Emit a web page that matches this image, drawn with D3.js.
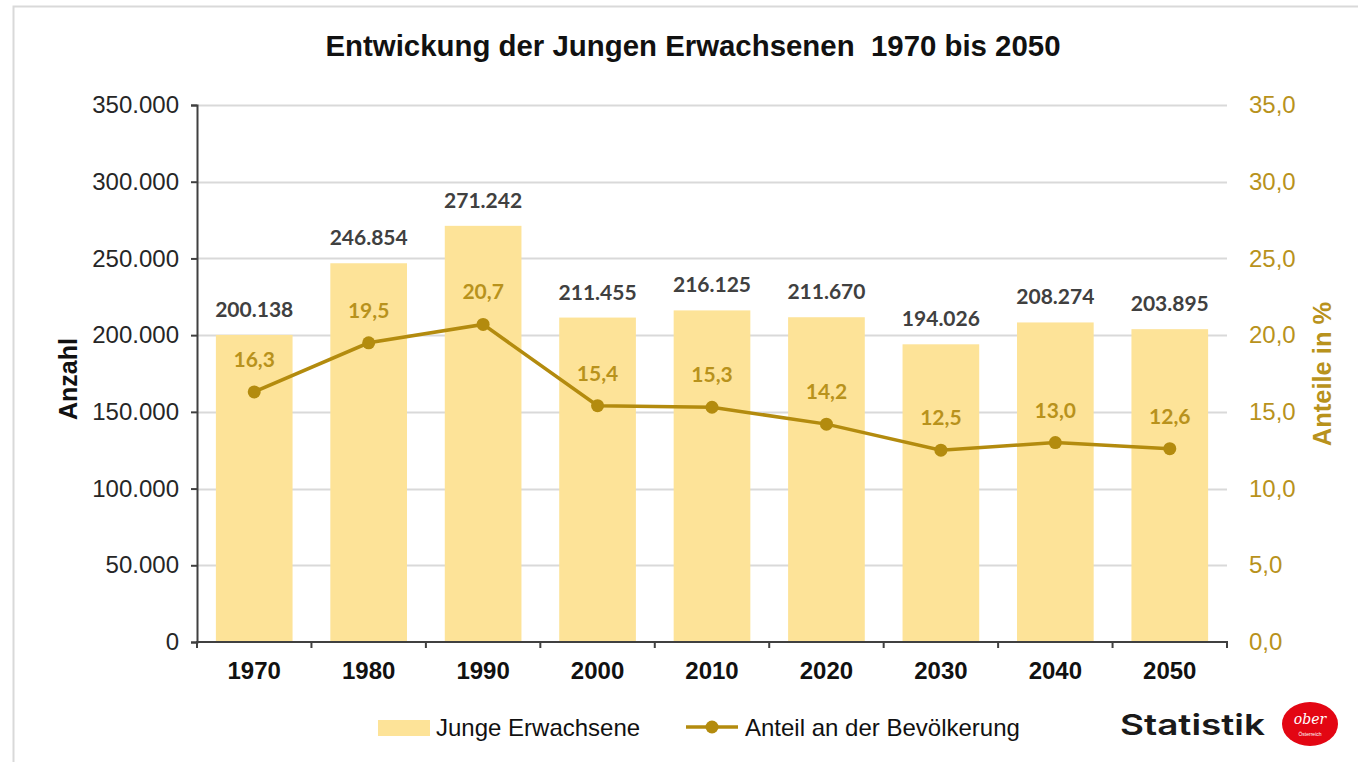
<!DOCTYPE html>
<html>
  <head>
    <meta charset="utf-8">
    <title>Junge Erwachsene</title>
    <script src="https://d3js.org/d3.v7.min.js"></script>
    <style>
      body { margin: 0; background: #fff; }
      text { font-family: "Liberation Sans", Arial, sans-serif; }
    </style>
  </head>
  <body>
    <div id="graph"></div>
  </body>

  <script>
    // Data
    const years = ["1970", "1980", "1990", "2000", "2010", "2020", "2030", "2040", "2050"];
    const counts = [200138, 246854, 271242, 211455, 216125, 211670, 194026, 208274, 203895];
    const shares = [16.3, 19.5, 20.7, 15.4, 15.3, 14.2, 12.5, 13.0, 12.6];
    const left_ticks = [0, 50000, 100000, 150000, 200000, 250000, 300000, 350000];
    const right_ticks = [0, 5, 10, 15, 20, 25, 30, 35];

    const width = 1358;
    const height = 762;
    const margin = ({top: 105, right: 131, bottom: 120, left: 197});
    const bar_color = "#FDE398";
    const line_color = "#B38B0E";
    const gold_text = "#B8921C";

    const de_int = d3.formatLocale({decimal: ",", thousands: ".", grouping: [3], currency: ["", "€"]});
    const fmt_count = de_int.format(",d");
    const fmt_share = de_int.format(".1f");

    let svg = d3.select("#graph").append("svg")
      .attr("width", width)
      .attr("height", height);

    // Outer frame
    svg.append("rect")
      .attr("x", 13.5).attr("y", 6.5)
      .attr("width", width).attr("height", height)
      .attr("fill", "none")
      .attr("stroke", "#d9d9d9")
      .attr("stroke-width", 2);

    // Title
    svg.append("text")
      .attr("x", 693).attr("y", 56)
      .attr("text-anchor", "middle")
      .style("font-weight", "bold")
      .style("font-size", "29.4px")
      .style("fill", "#111")
      .style("white-space", "pre")
      .text("Entwickung der Jungen Erwachsenen  1970 bis 2050");

    // Scales
    let x = d3.scaleBand()
      .domain(years)
      .range([margin.left, width - margin.right])
      .paddingInner(0.33)
      .paddingOuter(0.165);
    let x_ticks = d3.scaleBand().domain(years).range([margin.left, width - margin.right]);
    let y = d3.scaleLinear()
      .domain([0, 350000])
      .range([height - margin.bottom, margin.top]);
    let y2 = d3.scaleLinear()
      .domain([0, 35])
      .range([height - margin.bottom, margin.top]);

    // Gridlines
    svg.append("g")
      .selectAll("line")
      .data(left_ticks.filter(d => d > 0))
      .join("line")
      .attr("x1", margin.left)
      .attr("x2", width - margin.right)
      .attr("y1", d => Math.round(y(d)) + 0.5)
      .attr("y2", d => Math.round(y(d)) + 0.5)
      .attr("stroke", "#d9d9d9")
      .attr("stroke-width", 2);

    // Bars
    svg.append("g")
      .selectAll("rect")
      .data(counts)
      .join("rect")
      .attr("x", (d, i) => x(years[i]))
      .attr("y", d => y(d))
      .attr("width", x.bandwidth())
      .attr("height", d => y(0) - y(d))
      .attr("fill", bar_color);

    // Left axis
    let left_axis = svg.append("g")
      .attr("transform", `translate(${margin.left}, 0)`)
      .call(d3.axisLeft(y).tickValues(left_ticks).tickFormat(d => fmt_count(d)).tickSize(6).tickPadding(12));
    left_axis.select(".domain").attr("stroke", "#404040").attr("stroke-width", 2);
    left_axis.selectAll(".tick line").attr("stroke", "#404040").attr("stroke-width", 2);
    left_axis.selectAll(".tick text")
      .style("font-family", "'Liberation Sans', Arial, sans-serif")
      .style("font-size", "24px")
      .style("fill", "#262626");

    // Right axis (labels only)
    let right_axis = svg.append("g")
      .attr("transform", `translate(${width - margin.right}, 0)`)
      .call(d3.axisRight(y2).tickValues(right_ticks).tickFormat(d => fmt_share(d)).tickSize(0).tickPadding(22));
    right_axis.select(".domain").remove();
    right_axis.selectAll(".tick text")
      .style("font-family", "'Liberation Sans', Arial, sans-serif")
      .style("font-size", "24px")
      .style("fill", gold_text);

    // Bottom axis with ticks at category boundaries
    let bottom = svg.append("g")
      .attr("transform", `translate(0, ${height - margin.bottom})`);
    bottom.append("line")
      .attr("x1", margin.left - 1).attr("x2", width - margin.right + 1)
      .attr("stroke", "#404040").attr("stroke-width", 2);
    bottom.selectAll(".sep")
      .data(years.concat(["end"]))
      .join("line")
      .attr("class", "sep")
      .attr("x1", (d, i) => i < years.length ? x_ticks(d) : x_ticks.range()[1])
      .attr("x2", (d, i) => i < years.length ? x_ticks(d) : x_ticks.range()[1])
      .attr("y1", 0).attr("y2", 6)
      .attr("stroke", "#404040").attr("stroke-width", 2);
    bottom.selectAll(".year")
      .data(years)
      .join("text")
      .attr("class", "year")
      .attr("x", d => x(d) + x.bandwidth() / 2)
      .attr("y", 37)
      .attr("text-anchor", "middle")
      .style("font-weight", "bold")
      .style("font-size", "24px")
      .style("fill", "#111")
      .text(d => d);

    // Bar value labels
    svg.append("g")
      .selectAll("text")
      .data(counts)
      .join("text")
      .attr("x", (d, i) => x(years[i]) + x.bandwidth() / 2)
      .attr("y", d => y(d) - 18)
      .attr("text-anchor", "middle")
      .style("font-family", "Lato, 'Open Sans', sans-serif")
      .style("font-weight", "bold")
      .style("font-size", "21px")
      .style("fill", "#404040")
      .text(d => fmt_count(d));

    // Share line
    let line = d3.line()
      .x((d, i) => x(years[i]) + x.bandwidth() / 2)
      .y(d => y2(d));
    svg.append("path")
      .datum(shares)
      .attr("d", line)
      .attr("fill", "none")
      .attr("stroke", line_color)
      .attr("stroke-width", 3.5);
    svg.append("g")
      .selectAll("circle")
      .data(shares)
      .join("circle")
      .attr("cx", (d, i) => x(years[i]) + x.bandwidth() / 2)
      .attr("cy", d => y2(d))
      .attr("r", 6.5)
      .attr("fill", line_color);
    svg.append("g")
      .selectAll("text")
      .data(shares)
      .join("text")
      .attr("x", (d, i) => x(years[i]) + x.bandwidth() / 2)
      .attr("y", d => y2(d) - 25)
      .attr("text-anchor", "middle")
      .style("font-family", "Lato, 'Open Sans', sans-serif")
      .style("font-weight", "bold")
      .style("font-size", "21px")
      .style("fill", gold_text)
      .text(d => fmt_share(d));

    // Axis titles
    svg.append("text")
      .attr("transform", "translate(77, 379) rotate(-90)")
      .attr("text-anchor", "middle")
      .style("font-weight", "bold")
      .style("font-size", "25px")
      .style("fill", "#111")
      .text("Anzahl");
    svg.append("text")
      .attr("transform", "translate(1331, 374) rotate(-90)")
      .attr("text-anchor", "middle")
      .style("font-weight", "bold")
      .style("font-size", "25.5px")
      .style("fill", gold_text)
      .text("Anteile in %");

    // Legend
    let legend = svg.append("g");
    legend.append("rect")
      .attr("x", 378).attr("y", 720)
      .attr("width", 52).attr("height", 16)
      .attr("fill", bar_color);
    legend.append("text")
      .attr("x", 436).attr("y", 736)
      .style("font-size", "24px")
      .style("fill", "#111")
      .text("Junge Erwachsene");
    legend.append("line")
      .attr("x1", 686).attr("x2", 738)
      .attr("y1", 727).attr("y2", 727)
      .attr("stroke", line_color)
      .attr("stroke-width", 3.5);
    legend.append("circle")
      .attr("cx", 712).attr("cy", 727).attr("r", 6.5)
      .attr("fill", line_color);
    legend.append("text")
      .attr("x", 745).attr("y", 736)
      .style("font-size", "24px")
      .style("fill", "#111")
      .text("Anteil an der Bevölkerung");

    // Logo
    svg.append("text")
      .attr("x", 1120).attr("y", 735)
      .attr("textLength", 145)
      .attr("lengthAdjust", "spacingAndGlyphs")
      .style("font-family", "Inter, Lato, sans-serif")
      .style("font-weight", 600)
      .style("font-size", "29px")
      .style("fill", "#1a1a1a")
      .text("Statistik");
    svg.append("ellipse")
      .attr("cx", 1310).attr("cy", 724)
      .attr("rx", 28).attr("ry", 22)
      .attr("fill", "#E30613");
    svg.append("text")
      .attr("x", 1310).attr("y", 724)
      .attr("text-anchor", "middle")
      .style("font-family", "'DejaVu Serif', serif")
      .style("font-style", "italic")
      .style("font-size", "14px")
      .style("fill", "#fff")
      .text("ober");
    svg.append("text")
      .attr("x", 1310).attr("y", 736)
      .attr("text-anchor", "middle")
      .style("font-size", "5px")
      .style("fill", "#fff")
      .text("Österreich");
  </script>
</html>
